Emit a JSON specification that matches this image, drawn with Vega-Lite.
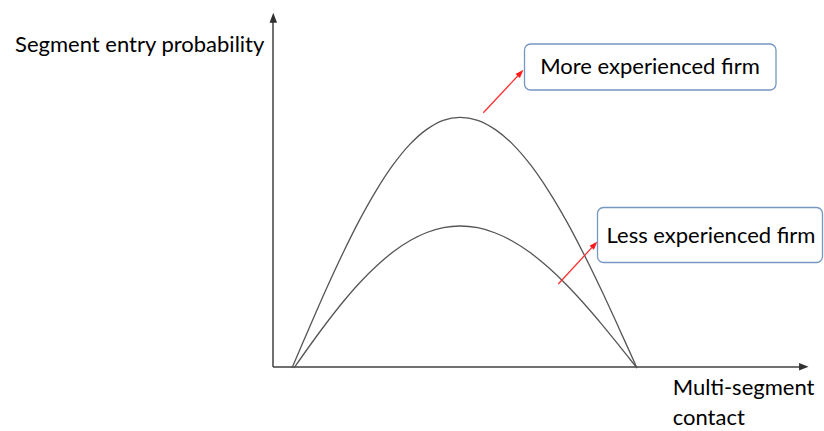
{
  "$schema": "https://vega.github.io/schema/vega-lite/v6.json",
  "width": 824,
  "height": 431,
  "autosize": {"type": "none"},
  "padding": 0,
  "background": "white",
  "config": {"view": {"stroke": null}},
  "datasets": {
    "curves": [
      {"firm": "More experienced", "contact": 19, "prob": -1},
      {"firm": "More experienced", "contact": 35.8, "prob": 38.1},
      {"firm": "More experienced", "contact": 52.6, "prob": 76.5},
      {"firm": "More experienced", "contact": 69.4, "prob": 112.8},
      {"firm": "More experienced", "contact": 86.2, "prob": 146.4},
      {"firm": "More experienced", "contact": 103, "prob": 176.2},
      {"firm": "More experienced", "contact": 119.8, "prob": 201.8},
      {"firm": "More experienced", "contact": 136.6, "prob": 222.4},
      {"firm": "More experienced", "contact": 153.4, "prob": 237.4},
      {"firm": "More experienced", "contact": 170.2, "prob": 246.7},
      {"firm": "More experienced", "contact": 187, "prob": 249.7},
      {"firm": "More experienced", "contact": 204.7, "prob": 246.7},
      {"firm": "More experienced", "contact": 222.4, "prob": 237.4},
      {"firm": "More experienced", "contact": 240.1, "prob": 222.4},
      {"firm": "More experienced", "contact": 257.8, "prob": 201.8},
      {"firm": "More experienced", "contact": 275.5, "prob": 176.2},
      {"firm": "More experienced", "contact": 293.2, "prob": 146.4},
      {"firm": "More experienced", "contact": 310.9, "prob": 112.8},
      {"firm": "More experienced", "contact": 328.6, "prob": 76.5},
      {"firm": "More experienced", "contact": 346.3, "prob": 38.1},
      {"firm": "More experienced", "contact": 364, "prob": -1},
      {"firm": "Less experienced", "contact": 21, "prob": -1},
      {"firm": "Less experienced", "contact": 37.6, "prob": 22.5},
      {"firm": "Less experienced", "contact": 54.2, "prob": 45},
      {"firm": "Less experienced", "contact": 70.8, "prob": 66},
      {"firm": "Less experienced", "contact": 87.4, "prob": 85},
      {"firm": "Less experienced", "contact": 104, "prob": 101.5},
      {"firm": "Less experienced", "contact": 120.6, "prob": 115.5},
      {"firm": "Less experienced", "contact": 137.2, "prob": 126.5},
      {"firm": "Less experienced", "contact": 153.8, "prob": 134.5},
      {"firm": "Less experienced", "contact": 170.4, "prob": 139.4},
      {"firm": "Less experienced", "contact": 187, "prob": 141},
      {"firm": "Less experienced", "contact": 204.7, "prob": 139.3},
      {"firm": "Less experienced", "contact": 222.4, "prob": 134},
      {"firm": "Less experienced", "contact": 240.1, "prob": 125.5},
      {"firm": "Less experienced", "contact": 257.8, "prob": 113.9},
      {"firm": "Less experienced", "contact": 275.5, "prob": 99.4},
      {"firm": "Less experienced", "contact": 293.2, "prob": 82.5},
      {"firm": "Less experienced", "contact": 310.9, "prob": 63.5},
      {"firm": "Less experienced", "contact": 328.6, "prob": 42.9},
      {"firm": "Less experienced", "contact": 346.3, "prob": 21.2},
      {"firm": "Less experienced", "contact": 364, "prob": -1}
    ],
    "axes": [
      {"name": "y", "x": 0, "y": 0, "x2": 0, "y2": 346},
      {"name": "x", "x": 0, "y": 0, "x2": 528, "y2": 0}
    ],
    "arrows": [
      {"label": "More experienced firm", "x": 210.3, "y": 254.3, "x2": 248, "y2": 294.5, "hx": 247.6, "hy": 294.1},
      {"label": "Less experienced firm", "x": 285.3, "y": 83, "x2": 321.8, "y2": 122.6, "hx": 321.6, "hy": 122.4}
    ],
    "boxes": [
      {"label": "More experienced firm", "x": 251.5, "x2": 503, "y": 323, "y2": 277, "tx": 377, "ty": 292.7},
      {"label": "Less experienced firm", "x": 324.5, "x2": 549.5, "y": 159.5, "y2": 104.5, "tx": 438, "ty": 124.3}
    ]
  },
  "layer": [
    {
      "data": {"name": "axes"},
      "mark": {"type": "rule", "color": "#404040", "strokeWidth": 1.5},
      "encoding": {
        "x": {"field": "x", "type": "quantitative", "scale": {"domain": [-273, 551], "nice": false, "zero": false}, "axis": null},
        "y": {"field": "y", "type": "quantitative", "scale": {"domain": [-64, 367], "nice": false, "zero": false}, "axis": null},
        "x2": {"field": "x2"},
        "y2": {"field": "y2"}
      }
    },
    {
      "data": {"values": [{"x": 0.3, "y": 349.3}]},
      "mark": {"type": "point", "shape": "M0,-1L0.75,1L-0.75,1Z", "size": 100, "filled": true, "color": "#303030", "opacity": 1},
      "encoding": {
        "x": {"field": "x", "type": "quantitative"},
        "y": {"field": "y", "type": "quantitative"}
      }
    },
    {
      "data": {"values": [{"x": 530.8, "y": 0.3}]},
      "mark": {"type": "point", "shape": "M1,0L-1,0.8L-1,-0.8Z", "size": 90, "filled": true, "color": "#303030", "opacity": 1},
      "encoding": {
        "x": {"field": "x", "type": "quantitative"},
        "y": {"field": "y", "type": "quantitative"}
      }
    },
    {
      "data": {"name": "curves"},
      "mark": {"type": "line", "interpolate": "catmull-rom", "color": "#555555", "strokeWidth": 1.3},
      "encoding": {
        "x": {"field": "contact", "type": "quantitative"},
        "y": {"field": "prob", "type": "quantitative"},
        "detail": {"field": "firm"}
      }
    },
    {
      "data": {"name": "arrows"},
      "mark": {"type": "rule", "color": "#ff3030", "strokeWidth": 1.3},
      "encoding": {
        "x": {"field": "x", "type": "quantitative"},
        "y": {"field": "y", "type": "quantitative"},
        "x2": {"field": "x2"},
        "y2": {"field": "y2"}
      }
    },
    {
      "data": {"name": "arrows"},
      "mark": {"type": "point", "shape": "M0,-1L0.7,1L-0.7,1Z", "size": 72, "filled": true, "color": "#ff1a1a", "opacity": 1, "angle": 43},
      "encoding": {
        "x": {"field": "hx", "type": "quantitative"},
        "y": {"field": "hy", "type": "quantitative"}
      }
    },
    {
      "data": {"name": "boxes"},
      "mark": {"type": "rect", "fill": "white", "stroke": "#7696c2", "strokeWidth": 1.3, "cornerRadius": 6},
      "encoding": {
        "x": {"field": "x", "type": "quantitative"},
        "x2": {"field": "x2"},
        "y": {"field": "y", "type": "quantitative"},
        "y2": {"field": "y2"}
      }
    },
    {
      "data": {"name": "boxes"},
      "mark": {"type": "text", "font": "Lato", "fontSize": 22, "align": "center", "baseline": "alphabetic", "color": "#000000"},
      "encoding": {
        "x": {"field": "tx", "type": "quantitative"},
        "y": {"field": "ty", "type": "quantitative"},
        "text": {"field": "label"}
      }
    },
    {
      "data": {"values": [{"text": "Segment entry probability", "x": -133.3, "y": 315.3}]},
      "mark": {"type": "text", "font": "Lato", "fontSize": 22, "align": "center", "baseline": "alphabetic", "color": "#000000"},
      "encoding": {
        "x": {"field": "x", "type": "quantitative"},
        "y": {"field": "y", "type": "quantitative"},
        "text": {"field": "text"}
      }
    },
    {
      "data": {"values": [{"text": "Multi-segment", "x": 399.7, "y": -28}, {"text": "contact", "x": 399.7, "y": -58}]},
      "mark": {"type": "text", "font": "Lato", "fontSize": 22, "align": "left", "baseline": "alphabetic", "color": "#000000"},
      "encoding": {
        "x": {"field": "x", "type": "quantitative"},
        "y": {"field": "y", "type": "quantitative"},
        "text": {"field": "text"}
      }
    }
  ]
}
